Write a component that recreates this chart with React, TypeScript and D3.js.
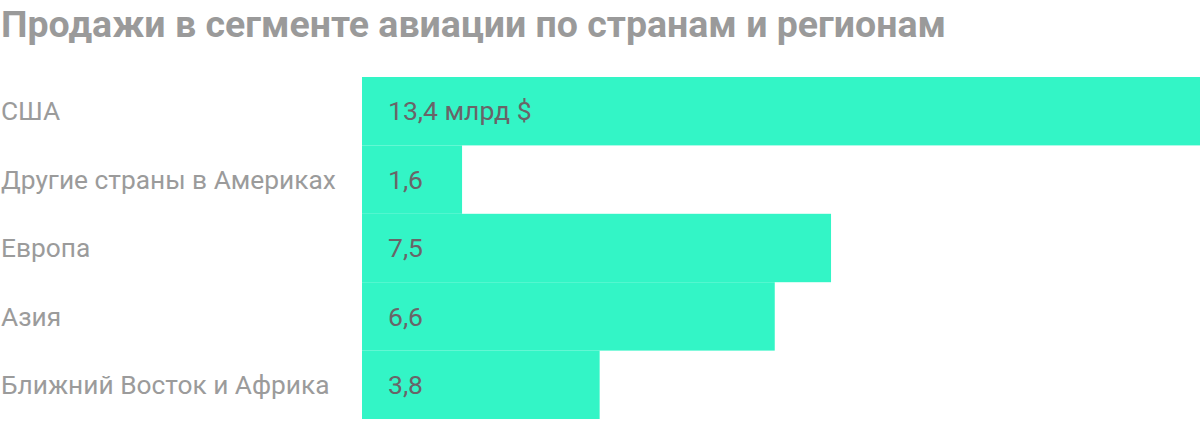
import React from "react";
import * as d3 from "d3";

const categories = ["США", "Другие страны в Америках", "Европа", "Азия", "Ближний Восток и Африка"];
const values = [13.4, 1.6, 7.5, 6.6, 3.8];
const valueLabels = ["13,4 млрд $", "1,6", "7,5", "6,6", "3,8"];
const title = "Продажи в сегменте авиации по странам и регионам";

export default function App() {
  const W = 1200, H = 422;
  const x = d3.scaleLinear().domain([0, 13.4]).range([362, 1200]);
  const y = d3.scaleBand<string>().domain(categories).range([77, 419]).padding(0);
  return (
    <svg width={W} height={H} style={{ position: "absolute", left: 0, top: 0, background: "#fff" }}
      fontFamily="Roboto, 'Noto Sans', sans-serif">
      <text x={1} y={37} fontSize={37.5} fontWeight={700} fill="#9a9a9a" fontFamily="Roboto, sans-serif">{title}</text>
      {categories.map((c, i) => (
        <g key={c}>
          <rect x={x(0)} y={y(c)!} width={x(values[i]) - x(0)} height={y.bandwidth()} fill="#33F5C6" />
          <text x={1} y={y(c)! + y.bandwidth() / 2} dy="0.35em" fontSize={26.3} fill="#9b9b9b">{c}</text>
          <text x={388} y={y(c)! + y.bandwidth() / 2} dy="0.35em" fontSize={26.5} fill="#6a6468">{valueLabels[i]}</text>
        </g>
      ))}
    </svg>
  );
}
